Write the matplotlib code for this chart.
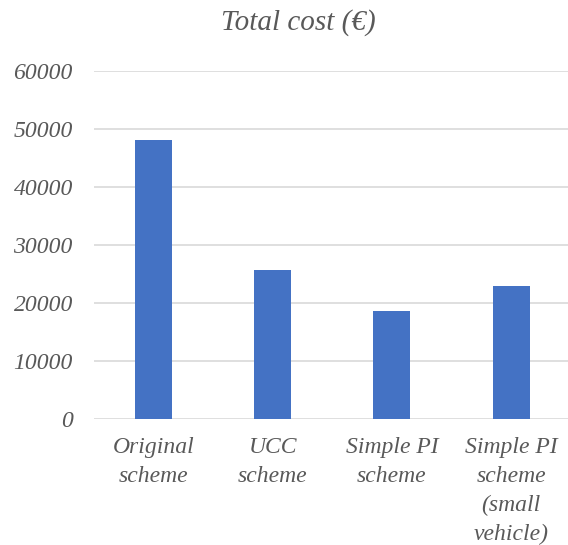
import matplotlib.pyplot as plt

categories = ["Original\nscheme", "UCC\nscheme", "Simple PI\nscheme",
              "Simple PI\nscheme\n(small\nvehicle)"]
total_cost = [48100, 25700, 18600, 22800]
y_ticks = [0, 10000, 20000, 30000, 40000, 50000, 60000]

plt.rcParams["font.family"] = ["Liberation Serif", "DejaVu Serif"]
plt.rcParams["font.style"] = "italic"
text_color = "#595959"

fig = plt.figure(figsize=(5.68, 5.45), dpi=100)
ax = fig.add_axes([0.165, 0.232, 0.84, 0.638])

x = range(len(categories))
ax.bar(x, total_cost, width=0.31, color="#4472C4", zorder=3)

ax.set_ylim(0, 60000)
ax.set_xlim(-0.5, len(categories) - 0.5)
ax.set_yticks(y_ticks)
ax.set_yticklabels([str(v) for v in y_ticks])
ax.set_xticks(list(x))
ax.set_xticklabels(categories, linespacing=1.5)

ax.grid(axis="y", color="#D9D9D9", linewidth=1.2, zorder=0)
ax.tick_params(axis="both", length=0, labelsize=17, labelcolor=text_color)
ax.tick_params(axis="y", pad=15)
ax.tick_params(axis="x", pad=13)
for s in ax.spines.values():
    s.set_visible(False)

fig.text(298 / 568, 1 - 23 / 545, "Total cost (€)",
         fontsize=21, color=text_color, ha="center", va="center")

fig.savefig("out.png")
